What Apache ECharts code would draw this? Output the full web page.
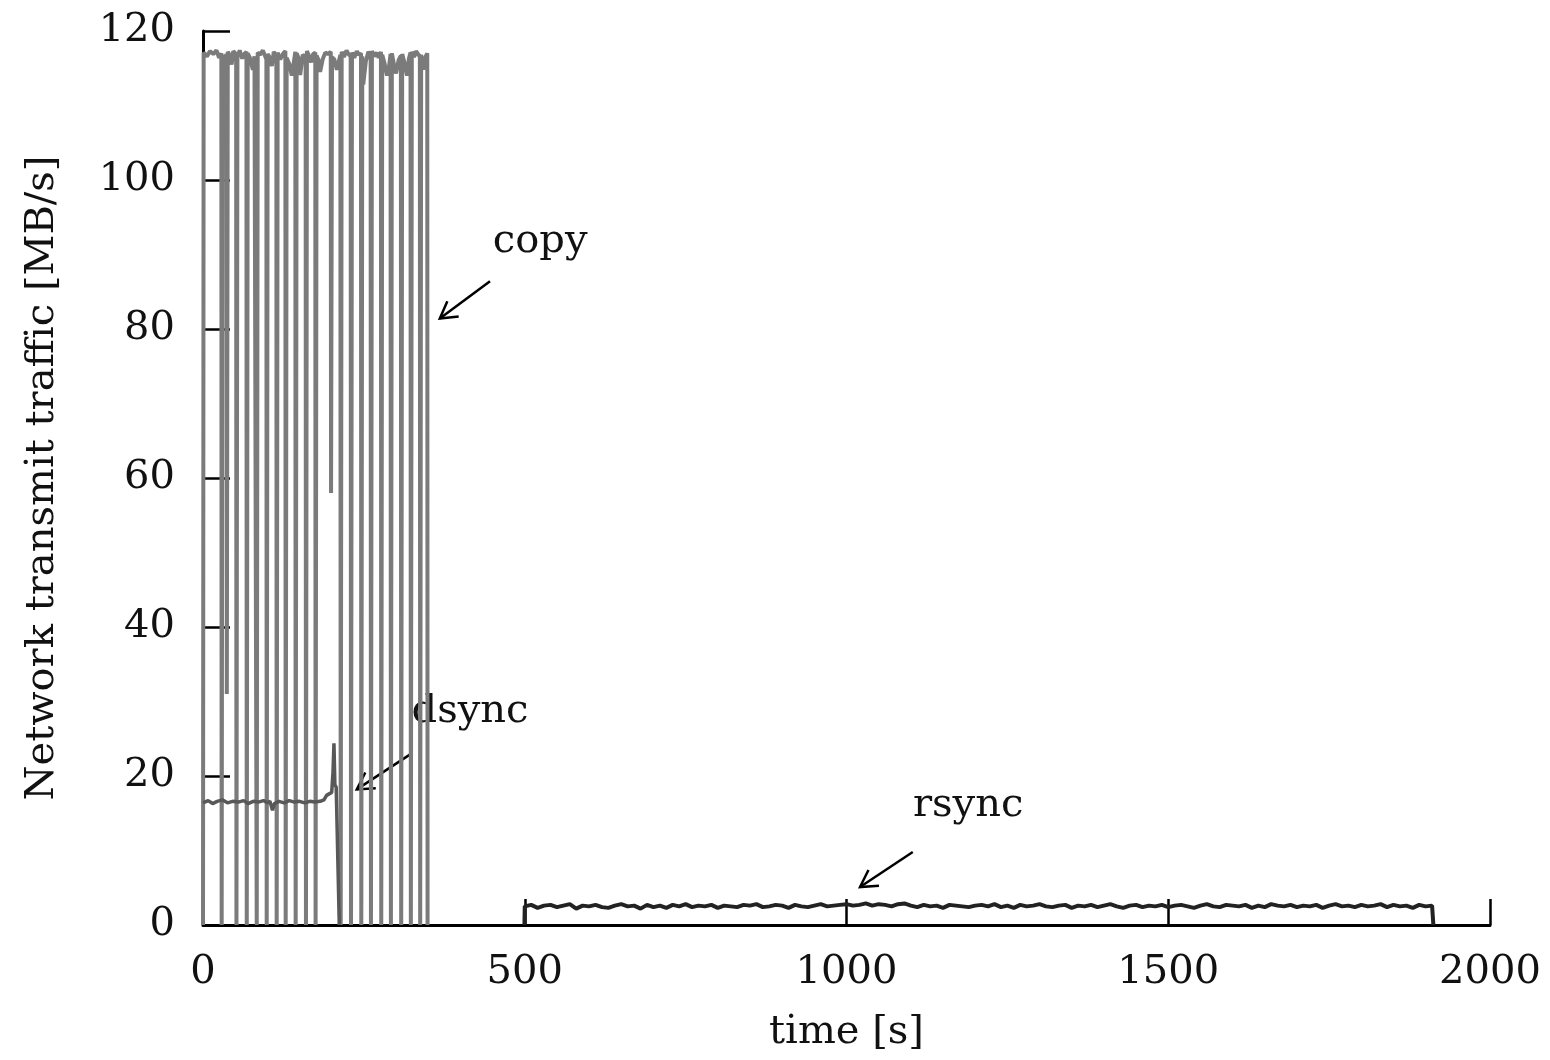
<!DOCTYPE html>
<html>
<head>
<meta charset="utf-8">
<title>Network transmit traffic</title>
<script src="https://cdn.jsdelivr.net/npm/echarts@6/dist/echarts.min.js"></script>
<style>
  html, body { margin: 0; padding: 0; background: #fff; }
  #chart { width: 1550px; height: 1060px; }
</style>
</head>
<body>
<div id="chart"></div>
<script>
// copy: ~117 MB/s with short drops to zero
var copyTime = [
  0, 1, 6, 11, 16, 21, 25, 28.5, 29,
  30.5, 33, 36.5, 37,
  38.5, 42, 44.5, 47, 51.5, 52,
  53.5, 57, 61, 64, 67.5, 68,
  69.5, 73, 77.5, 80, 83, 83.5,
  85, 89, 93, 98.5, 99,
  100.5, 104, 107, 110, 114, 114.5,
  116, 120, 124, 128, 128.5,
  130, 134, 138, 143.5, 144,
  145.5, 149, 151, 155, 159.5, 160,
  161.5, 165, 168, 171, 174.5, 175,
  176.5, 180, 182, 186, 190, 194, 198.5, 199,
  200.5, 204, 208, 213.5, 214,
  215.5, 219, 223, 226, 229.5, 230,
  231.5, 235, 239, 242, 245.5, 246,
  247.5, 249, 253, 257, 260.5, 261,
  262.5, 266, 270, 273, 276.5, 277,
  278.5, 282, 286, 289, 291.5, 292,
  293.5, 297, 300, 304, 307.5, 308,
  309.5, 313, 317, 320, 322.5, 323,
  324.5, 328, 331, 334, 337, 337.5,
  339, 342, 345, 348.5, 349, 350
];
var copyValue = [
  0, 117.1, 116.6, 117.3, 116.9, 117.4, 116.4, 117.0, 0,
  116.8, 115.9, 116.9, 31,
  117.2, 116.7, 115.5, 117.3, 116.9, 0,
  116.5, 117.4, 116.3, 116.9, 117.2, 0,
  117.0, 116.4, 114.8, 116.6, 116.8, 0,
  117.1, 116.8, 117.4, 116.2, 0,
  116.9, 116.4, 115.3, 117.2, 116.7, 0,
  117.1, 116.2, 116.9, 117.3, 0,
  116.4, 115.6, 114.0, 117.2, 0,
  117.0, 116.3, 114.1, 116.8, 116.5, 0,
  117.3, 116.6, 115.8, 116.9, 117.1, 0,
  116.7, 116.0, 114.5, 116.2, 117.1, 116.9, 117.2, 58,
  116.5, 116.2, 114.8, 116.8, 0,
  117.2, 116.5, 117.4, 116.9, 116.6, 0,
  117.1, 116.4, 117.3, 116.8, 117.0, 0,
  116.6, 112.8, 115.9, 117.2, 116.8, 0,
  117.3, 116.6, 117.1, 116.4, 117.2, 0,
  116.8, 115.7, 114.0, 115.2, 116.9, 0,
  117.0, 115.4, 114.3, 116.1, 116.7, 0,
  116.9, 115.8, 114.0, 116.3, 117.1, 0,
  117.2, 116.5, 117.3, 116.9, 116.6, 0,
  116.8, 114.8, 116.4, 117.0, 0, 0
];

// dsync: ~16.5 MB/s, short spike, then finished
var dsyncTime = [
  0, 8, 15, 22, 30, 38, 46, 55, 63, 70, 78, 86, 94, 100, 104, 108, 111,
  118, 126, 134, 142, 150, 158, 166, 174, 182, 188, 192, 196, 200,
  202, 203.5, 205, 207, 209, 211.8
];
var dsyncValue = [
  16.4, 16.7, 16.3, 16.6, 16.8, 16.4, 16.6, 16.5, 16.7, 16.3, 16.6, 16.5, 16.7, 16.4, 16.6, 15.4, 16.3,
  16.6, 16.4, 16.7, 16.5, 16.6, 16.4, 16.6, 16.5, 16.6, 16.8, 17.4, 17.6, 17.8,
  20.5, 24.4, 18.8, 18.5, 18.3, 0
];

// rsync: ~2.5 MB/s from 500 s to 1912 s, one value every 10 s
var rsyncStart = 500;
var rsyncStep = 10;
var rsyncValue = [
  2.5, 2.7, 2.3, 2.6, 2.7, 2.4, 2.6, 2.8, 2.2, 2.6,
  2.5, 2.7, 2.4, 2.3, 2.6, 2.8, 2.5, 2.6, 2.2, 2.7,
  2.4, 2.6, 2.3, 2.7, 2.5, 2.8, 2.4, 2.6, 2.5, 2.7,
  2.3, 2.6, 2.5, 2.4, 2.7, 2.6, 2.8, 2.4, 2.5, 2.7,
  2.6, 2.3, 2.7, 2.5, 2.4, 2.6, 2.8, 2.5, 2.6, 2.7,
  2.8, 2.6, 2.7, 2.9, 2.6, 2.8, 2.7, 2.5, 2.8, 2.9,
  2.6, 2.4, 2.7, 2.5, 2.6, 2.3, 2.7, 2.6, 2.5, 2.4,
  2.6, 2.7, 2.5, 2.8, 2.4, 2.6, 2.3, 2.7, 2.5, 2.6,
  2.8, 2.5, 2.4, 2.6, 2.7, 2.3, 2.6, 2.5, 2.7, 2.4,
  2.6, 2.8, 2.5, 2.3, 2.6, 2.7, 2.4, 2.6, 2.5, 2.7,
  2.4, 2.6, 2.7, 2.5, 2.3, 2.6, 2.8, 2.5, 2.4, 2.7,
  2.6, 2.5, 2.7, 2.3, 2.6, 2.4, 2.8, 2.6, 2.5, 2.7,
  2.4, 2.6, 2.5, 2.7, 2.3, 2.6, 2.8, 2.5, 2.6, 2.4,
  2.7, 2.5, 2.6, 2.8, 2.4, 2.7, 2.5, 2.6, 2.3, 2.7,
  2.5, 2.6
];
var rsyncEnd = 1912;

var xTicks = [0, 500, 1000, 1500, 2000];
var yTicks = [0, 20, 40, 60, 80, 100, 120];

// annotations in data coordinates: label centre, arrow tail, arrow head
var notes = [
  { text: 'copy',  label: [524, 91.7], tail: [446, 86.4], head: [368, 81.4] },
  { text: 'dsync', label: [415, 28.7], tail: [322, 22.9], head: [239, 18.2] },
  { text: 'rsync', label: [1189, 16.0], tail: [1103, 9.8], head: [1021, 5.1] }
];

var font = '"DejaVu Serif", "Liberation Serif", serif';

function zip(ts, vs) {
  return ts.map(function (t, i) { return [t, vs[i]]; });
}

var rsyncData = [[rsyncStart - 0.5, 0]];
rsyncValue.forEach(function (v, i) {
  rsyncData.push([rsyncStart + i * rsyncStep, v]);
});
rsyncData.push([rsyncEnd - 1, rsyncValue[rsyncValue.length - 1]]);
rsyncData.push([rsyncEnd, 0]);

var chart = echarts.init(document.getElementById('chart'));

var option = {
  animation: false,
  backgroundColor: '#fff',
  grid: { left: 203, right: 60, top: 31, bottom: 135 },
  xAxis: {
    type: 'value',
    min: xTicks[0],
    max: xTicks[xTicks.length - 1],
    interval: xTicks[1] - xTicks[0],
    name: 'time [s]',
    nameLocation: 'middle',
    nameGap: 88,
    nameTextStyle: { fontFamily: font, fontSize: 40, color: '#111' },
    axisLine: { lineStyle: { color: '#000', width: 3 } },
    axisTick: { inside: true, length: 26, lineStyle: { color: '#000', width: 2.5 } },
    axisLabel: {
      fontFamily: font, fontSize: 40, color: '#111', margin: 28,
      formatter: function (v) { return String(v); }
    },
    splitLine: { show: false }
  },
  yAxis: {
    type: 'value',
    min: yTicks[0],
    max: yTicks[yTicks.length - 1],
    interval: yTicks[1] - yTicks[0],
    name: 'Network transmit traffic [MB/s]',
    nameLocation: 'middle',
    nameGap: 140,
    nameTextStyle: { fontFamily: font, fontSize: 40, color: '#111' },
    axisLine: { show: true, lineStyle: { color: '#000', width: 3 } },
    axisTick: { show: true, inside: true, length: 27, lineStyle: { color: '#000', width: 2.5 } },
    axisLabel: {
      fontFamily: font, fontSize: 40, color: '#111', margin: 28,
      formatter: function (v) { return String(v); }
    },
    splitLine: { show: false }
  },
  series: [
    {
      name: 'copy',
      type: 'line',
      data: zip(copyTime, copyValue),
      showSymbol: false,
      lineStyle: { color: '#7b7b7b', width: 4 },
      z: 2
    },
    {
      name: 'dsync',
      type: 'line',
      data: zip(dsyncTime, dsyncValue),
      showSymbol: false,
      lineStyle: { color: '#585858', width: 3.5 },
      z: 3
    },
    {
      name: 'rsync',
      type: 'line',
      data: rsyncData,
      showSymbol: false,
      lineStyle: { color: '#222', width: 4 },
      z: 3
    }
  ]
};

chart.setOption(option);

// arrows and labels placed through the axes' scales
var graphics = [];
notes.forEach(function (n) {
  var lp = chart.convertToPixel({ gridIndex: 0 }, n.label);
  var tp = chart.convertToPixel({ gridIndex: 0 }, n.tail);
  var hp = chart.convertToPixel({ gridIndex: 0 }, n.head);
  var dx = tp[0] - hp[0], dy = tp[1] - hp[1];
  var len = Math.sqrt(dx * dx + dy * dy);
  var bx = dx / len, by = dy / len;
  var a = Math.PI / 6, w = 19;
  var w1 = [hp[0] + w * (bx * Math.cos(a) - by * Math.sin(a)), hp[1] + w * (bx * Math.sin(a) + by * Math.cos(a))];
  var w2 = [hp[0] + w * (bx * Math.cos(-a) - by * Math.sin(-a)), hp[1] + w * (bx * Math.sin(-a) + by * Math.cos(-a))];
  graphics.push({
    type: 'text',
    x: lp[0], y: lp[1],
    style: { text: n.text, font: '40px ' + font, fill: '#111', align: 'center', verticalAlign: 'middle' }
  });
  graphics.push({
    type: 'line',
    shape: { x1: tp[0], y1: tp[1], x2: hp[0], y2: hp[1] },
    style: { stroke: '#000', lineWidth: 2.5 }
  });
  graphics.push({
    type: 'polyline',
    shape: { points: [w1, hp, w2] },
    style: { stroke: '#000', lineWidth: 2.5, fill: null }
  });
});
chart.setOption({ graphic: graphics });
</script>
</body>
</html>
